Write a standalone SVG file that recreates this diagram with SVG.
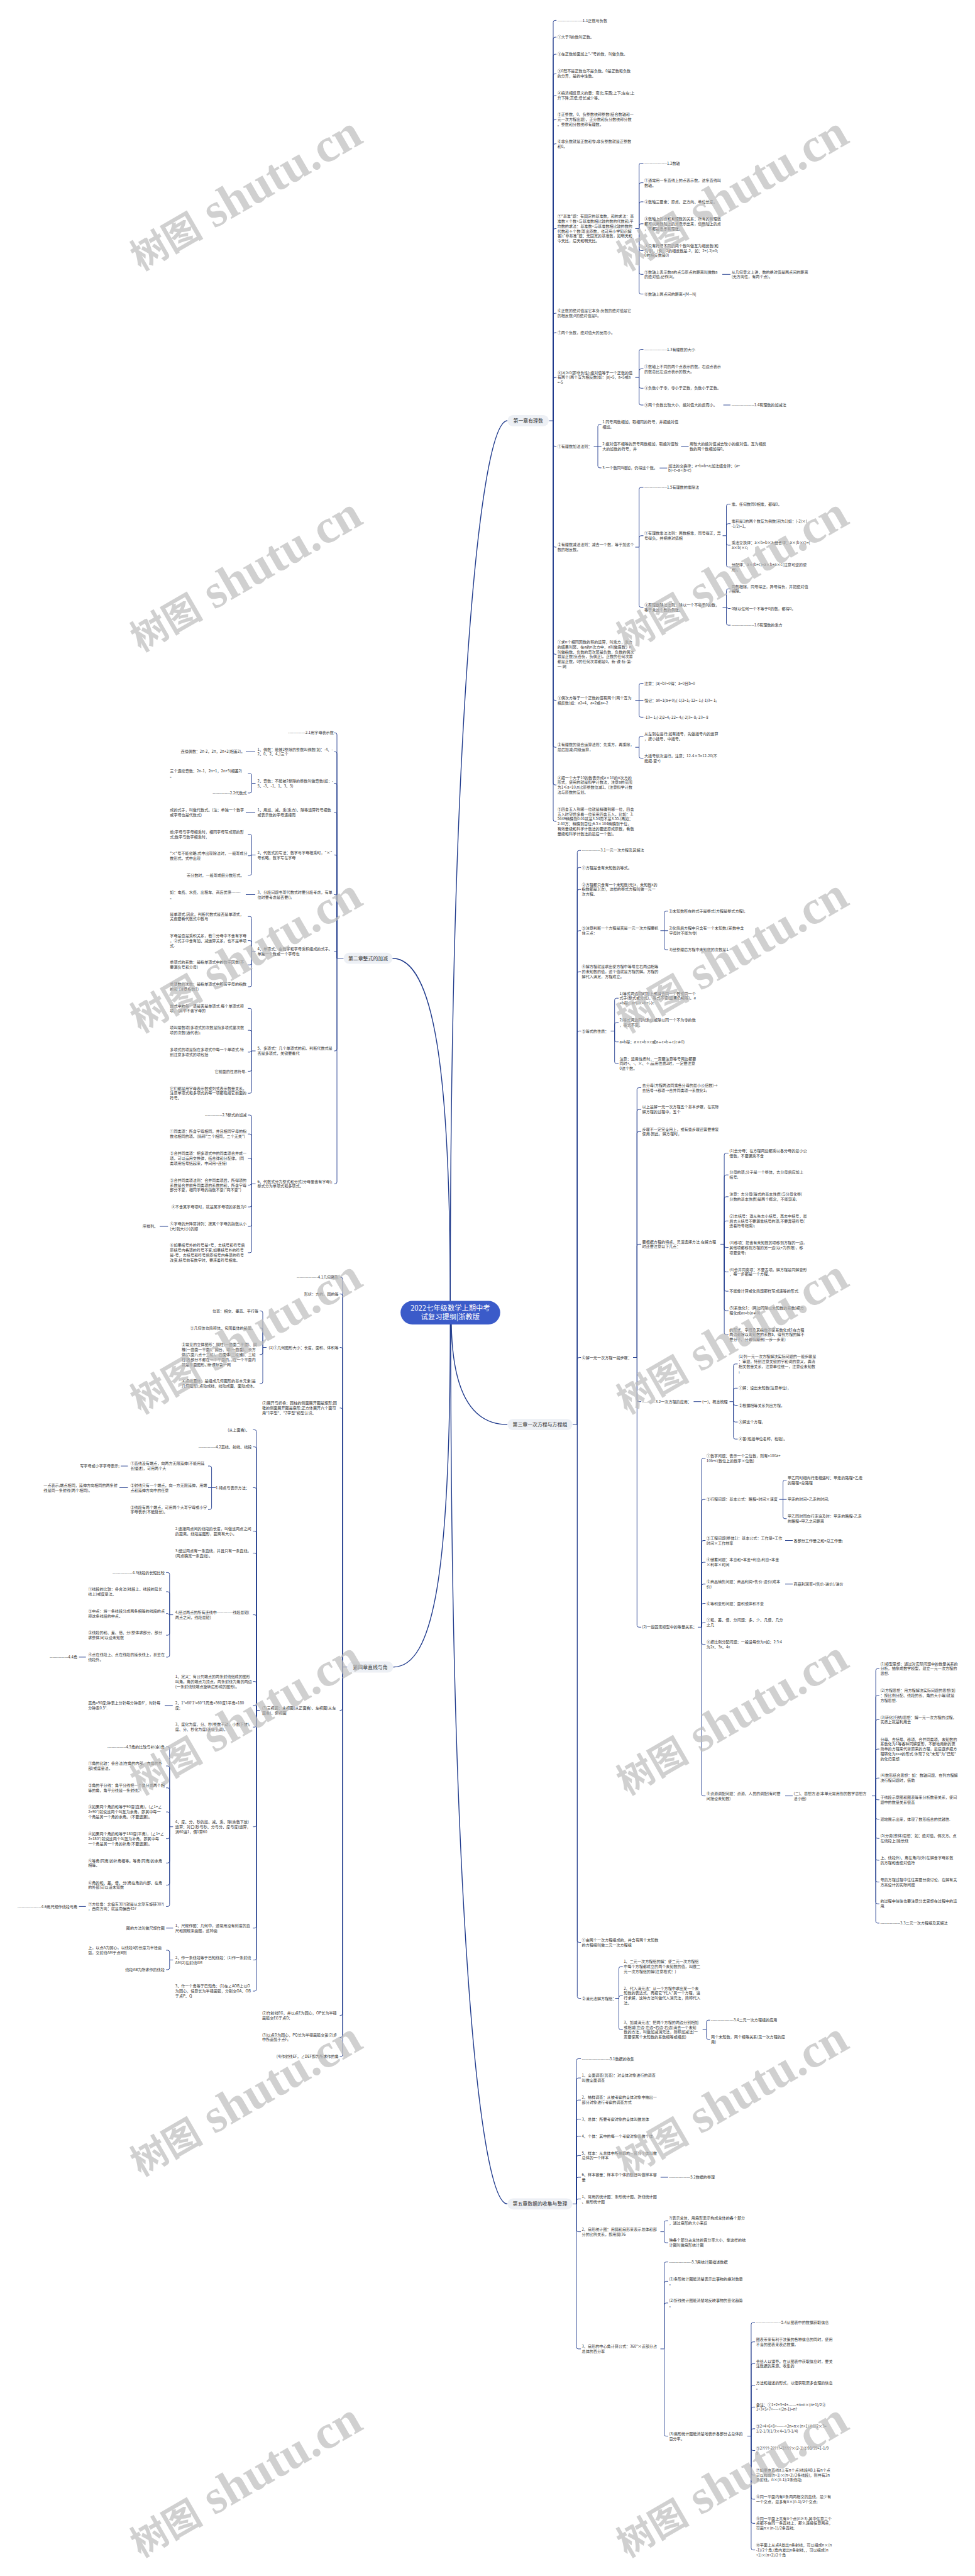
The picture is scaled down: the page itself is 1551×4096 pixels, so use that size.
<svg xmlns="http://www.w3.org/2000/svg" width="1551" height="4096" viewBox="0 0 1551 4096">
<style>
.t{font:6.1px "Noto Sans CJK SC","Noto Sans",sans-serif;fill:#333}
.e{text-anchor:end}
.k{fill:none;stroke:#1f3a8c;stroke-width:0.9}
.m{fill:none;stroke:#1f3a8c;stroke-width:1.4}
.n{fill:#edf0f5}
.nt{font:7.9px "Noto Sans CJK SC",sans-serif;fill:#333;text-anchor:middle}
.rt{font:11.3px "Noto Sans CJK SC",sans-serif;fill:#fff;text-anchor:middle}
.w{fill:#bdbdbd;opacity:.7;text-anchor:middle}
.w1{font:700 58px "Noto Sans CJK SC",sans-serif}
.w2{font:700 76px "Liberation Serif",serif}
</style>
<defs><g id="wm"><text class="w" y="20"><tspan class="w1">树图</tspan><tspan class="w2"> shutu.cn</tspan></text></g></defs>
<rect width="1551" height="4096" fill="#fff"/>
<g id="connectors">
<path class="m" d="M716.3 2068.5C716.3 1200 760 669 807.3 669"/>
<path class="m" d="M716.3 2068.5C716.3 1700 690 1523.7 624 1523.7"/>
<path class="m" d="M718 2106C720 2230 760 2265.1 807.3 2265.1"/>
<path class="m" d="M716.3 2106C716.3 2500 690 2650.7 625.5 2650.7"/>
<path class="m" d="M717 2106C717 3000 760 3504.3 807.3 3504.3"/>
<path class="k" d="M873.5 669H880M880 669V35.4Q880 32.4 883 32.4H885.2M880 669V62.1Q880 59.1 883 59.1H885.2M880 669V89.2Q880 86.2 883 86.2H885.2M880 669V120.3Q880 117.3 883 117.3H885.2M880 669V155Q880 152 883 152H885.2M880 669V193.2Q880 190.2 883 190.2H885.2M880 669V231.7Q880 228.7 883 228.7H885.2M880 669V366.5Q880 363.5 883 363.5H885.2M880 669V501.1Q880 498.1 883 498.1H885.2M880 669V531.9Q880 528.9 883 528.9H885.2M880 669V603.2Q880 600.2 883 600.2H885.2M880 669V706.7Q880 709.7 883 709.7H885.2M880 669V867Q880 870 883 870H885.2M880 669V1037.3Q880 1040.3 883 1040.3H885.2M880 669V1110.6Q880 1113.6 883 1113.6H885.2M880 669V1185.2Q880 1188.2 883 1188.2H885.2M880 669V1245.1Q880 1248.1 883 1248.1H885.2M880 669V1303.1Q880 1306.1 883 1306.1H885.2"/>
<path class="k" d="M1010.5 363.5H1016.7M1016.7 363.5V262.5Q1016.7 259.5 1019.7 259.5H1023.5M1016.7 363.5V293.6Q1016.7 290.6 1019.7 290.6H1023.5M1016.7 363.5V323.9Q1016.7 320.9 1019.7 320.9H1023.5M1016.7 363.5V358.8Q1016.7 355.8 1019.7 355.8H1023.5M1016.7 363.5V395.5Q1016.7 398.5 1019.7 398.5H1023.5M1016.7 363.5V433.3Q1016.7 436.3 1019.7 436.3H1023.5M1016.7 363.5V464.5Q1016.7 467.5 1019.7 467.5H1023.5"/>
<path class="k" d="M1149 436.3H1162M1150.6 644H1162M1083.4 709.6H1095.5M1049.3 744.2H1061.4"/>
<path class="k" d="M1010.5 600.2H1016.7M1016.7 600.2V558.5Q1016.7 555.5 1019.7 555.5H1023.5M1016.7 600.2V589.5Q1016.7 586.5 1019.7 586.5H1023.5M1016.7 600.2V614.3Q1016.7 617.3 1019.7 617.3H1023.5M1016.7 600.2V641Q1016.7 644 1019.7 644H1023.5"/>
<path class="k" d="M944.5 709.7H951M951 709.7V677.9Q951 674.9 954 674.9H956.7M951 709.7H956.7M951 709.7V740.9Q951 743.9 954 743.9H956.7"/>
<path class="k" d="M1010.5 870H1016.7M1016.7 870V778Q1016.7 775 1019.7 775H1023.5M1016.7 870V854.8Q1016.7 851.8 1019.7 851.8H1023.5M1016.7 870V962.6Q1016.7 965.6 1019.7 965.6H1023.5"/>
<path class="k" d="M1149.5 851.8H1155.5M1155.5 851.8V804.7Q1155.5 801.7 1158.5 801.7H1162.2M1155.5 851.8V835.7Q1155.5 832.7 1158.5 832.7H1162.2M1155.5 851.8V863.9Q1155.5 866.9 1158.5 866.9H1162.2M1155.5 851.8V898.6Q1155.5 901.6 1158.5 901.6H1162.2"/>
<path class="k" d="M1149.5 965.6H1155.5M1155.5 965.6V939.3Q1155.5 936.3 1158.5 936.3H1162.2M1155.5 965.6L1158.5 967.5H1162.2M1155.5 965.6V991.1Q1155.5 994.1 1158.5 994.1H1162.2"/>
<path class="k" d="M1010.5 1113.6H1016.7M1016.7 1113.6V1089.6Q1016.7 1086.6 1019.7 1086.6H1023.5M1016.7 1113.6H1023.5M1016.7 1113.6V1137.4Q1016.7 1140.4 1019.7 1140.4H1023.5"/>
<path class="k" d="M1010.5 1188.2H1016.7M1016.7 1188.2V1173.9Q1016.7 1170.9 1019.7 1170.9H1023.5M1016.7 1188.2V1202.6Q1016.7 1205.6 1019.7 1205.6H1023.5"/>
<path class="k" d="M911 2265.1H918.3M918.3 2265.1V1355.3Q918.3 1352.3 921.3 1352.3H924.1M918.3 2265.1V1382.4Q918.3 1379.4 921.3 1379.4H924.1M918.3 2265.1V1417.3Q918.3 1414.3 921.3 1414.3H924.1M918.3 2265.1V1482.8Q918.3 1479.8 921.3 1479.8H924.1M918.3 2265.1V1548Q918.3 1545 921.3 1545H924.1M918.3 2265.1V1642.4Q918.3 1639.4 921.3 1639.4H924.1M918.3 2265.1V2161.5Q918.3 2158.5 921.3 2158.5H924.1M918.3 2265.1V3085.5Q918.3 3088.5 921.3 3088.5H924.1M918.3 2265.1V3174.5Q918.3 3177.5 921.3 3177.5H924.1"/>
<path class="k" d="M1050.5 1479.8H1056.6M1056.6 1479.8V1451.8Q1056.6 1448.8 1059.6 1448.8H1062.9M1056.6 1479.8H1062.9M1056.6 1479.8V1507.1Q1056.6 1510.1 1059.6 1510.1H1062.9"/>
<path class="k" d="M971.5 1639.4H977.7M977.7 1639.4V1590.2Q977.7 1587.2 980.7 1587.2H984M977.7 1639.4V1628.9Q977.7 1625.9 980.7 1625.9H984M977.7 1639.4V1653.7Q977.7 1656.7 980.7 1656.7H984M977.7 1639.4V1688.2Q977.7 1691.2 980.7 1691.2H984"/>
<path class="k" d="M1007 2158.5H1013.3M1013.3 2158.5V1732.5Q1013.3 1729.5 1016.3 1729.5H1020.1M1013.3 2158.5V1767.2Q1013.3 1764.2 1016.3 1764.2H1020.1M1013.3 2158.5V1802.3Q1013.3 1799.3 1016.3 1799.3H1020.1M1013.3 2158.5V1981.4Q1013.3 1978.4 1016.3 1978.4H1020.1M1013.3 2158.5V2225.7Q1013.3 2228.7 1016.3 2228.7H1020.1M1013.3 2158.5V2584.3Q1013.3 2587.3 1016.3 2587.3H1020.1"/>
<path class="k" d="M1146 1978.4H1152.1M1152.1 1978.4V1836.5Q1152.1 1833.5 1155.1 1833.5H1158.8M1152.1 1978.4V1871.2Q1152.1 1868.2 1155.1 1868.2H1158.8M1152.1 1978.4V1905.9Q1152.1 1902.9 1155.1 1902.9H1158.8M1152.1 1978.4V1944.4Q1152.1 1941.4 1155.1 1941.4H1158.8M1152.1 1978.4V1980.6Q1152.1 1983.6 1155.1 1983.6H1158.8M1152.1 1978.4V2019.4Q1152.1 2022.4 1155.1 2022.4H1158.8M1152.1 1978.4V2050.1Q1152.1 2053.1 1155.1 2053.1H1158.8M1152.1 1978.4V2081.1Q1152.1 2084.1 1155.1 2084.1H1158.8M1152.1 1978.4V2119.3Q1152.1 2122.3 1155.1 2122.3H1158.8"/>
<path class="k" d="M1103.4 2228.7H1115.5M1249 2449.5H1261M1249 2518.8H1261M1249 2855.6H1261"/>
<path class="k" d="M1160.5 2228.7H1166.7M1166.7 2228.7V2171.8Q1166.7 2168.8 1169.7 2168.8H1173.5M1166.7 2228.7V2210.3Q1166.7 2207.3 1169.7 2207.3H1173.5M1166.7 2228.7V2231.5Q1166.7 2234.5 1169.7 2234.5H1173.5M1166.7 2228.7V2258.1Q1166.7 2261.1 1169.7 2261.1H1173.5M1166.7 2228.7V2285.2Q1166.7 2288.2 1169.7 2288.2H1173.5"/>
<path class="k" d="M1110 2587.3H1116M1116 2587.3V2321.8Q1116 2318.8 1119 2318.8H1122.3M1116 2587.3V2387.2Q1116 2384.2 1119 2384.2H1122.3M1116 2587.3V2452.5Q1116 2449.5 1119 2449.5H1122.3M1116 2587.3V2487.1Q1116 2484.1 1119 2484.1H1122.3M1116 2587.3V2521.8Q1116 2518.8 1119 2518.8H1122.3M1116 2587.3V2552.5Q1116 2549.5 1119 2549.5H1122.3M1116 2587.3V2583.1Q1116 2580.1 1119 2580.1H1122.3M1116 2587.3V2611.8Q1116 2614.8 1119 2614.8H1122.3M1116 2587.3V2852.6Q1116 2855.6 1119 2855.6H1122.3"/>
<path class="k" d="M1239.5 2384.2H1245.6M1245.6 2384.2V2356.5Q1245.6 2353.5 1248.6 2353.5H1251.4M1245.6 2384.2H1251.4M1245.6 2384.2V2411.8Q1245.6 2414.8 1248.6 2414.8H1251.4"/>
<path class="k" d="M1387 2855.6H1393.1M1393.1 2855.6V2656.3Q1393.1 2653.3 1396.1 2653.3H1398.9M1393.1 2855.6V2699Q1393.1 2696 1396.1 2696H1398.9M1393.1 2855.6V2737.3Q1393.1 2734.3 1396.1 2734.3H1398.9M1393.1 2855.6V2784.1Q1393.1 2781.1 1396.1 2781.1H1398.9M1393.1 2855.6V2830.2Q1393.1 2827.2 1396.1 2827.2H1398.9M1393.1 2855.6V2858.8Q1393.1 2861.8 1396.1 2861.8H1398.9M1393.1 2855.6V2889.6Q1393.1 2892.6 1396.1 2892.6H1398.9M1393.1 2855.6V2920.2Q1393.1 2923.2 1396.1 2923.2H1398.9M1393.1 2855.6V2954.9Q1393.1 2957.9 1396.1 2957.9H1398.9M1393.1 2855.6V2989.5Q1393.1 2992.5 1396.1 2992.5H1398.9M1393.1 2855.6V3024.2Q1393.1 3027.2 1396.1 3027.2H1398.9M1393.1 2855.6V3054.9Q1393.1 3057.9 1396.1 3057.9H1398.9"/>
<path class="k" d="M978.5 3177.5H984.5M984.5 3177.5V3130.1Q984.5 3127.1 987.5 3127.1H990.8M984.5 3177.5V3176.2Q984.5 3173.2 987.5 3173.2H990.8M984.5 3177.5V3224.4Q984.5 3227.4 987.5 3227.4H990.8"/>
<path class="k" d="M1117.7 3227.4H1123.8M1123.8 3227.4V3215.2Q1123.8 3212.2 1126.8 3212.2H1129.6M1123.8 3227.4V3239.7Q1123.8 3242.7 1126.8 3242.7H1129.6"/>
<path class="k" d="M911 3504.3H917M917 3504.3V3276.5Q917 3273.5 920 3273.5H924.1M917 3504.3V3307.1Q917 3304.1 920 3304.1H924.1M917 3504.3V3342.2Q917 3339.2 920 3339.2H924.1M917 3504.3V3372.5Q917 3369.5 920 3369.5H924.1M917 3504.3V3399.7Q917 3396.7 920 3396.7H924.1M917 3504.3V3430.4Q917 3427.4 920 3427.4H924.1M917 3504.3V3465Q917 3462 920 3462H924.1M917 3504.3V3499.5Q917 3496.5 920 3496.5H924.1M917 3504.3V3545.6Q917 3548.6 920 3548.6H924.1M917 3504.3V3731.9Q917 3734.9 920 3734.9H924.1"/>
<path class="k" d="M1050.8 3462H1062.9"/>
<path class="k" d="M1050.5 3548.6H1056.6M1056.6 3548.6V3534.1Q1056.6 3531.1 1059.6 3531.1H1062.9M1056.6 3548.6V3563.1Q1056.6 3566.1 1059.6 3566.1H1062.9"/>
<path class="k" d="M1050.5 3734.9H1056.6M1056.6 3734.9V3599.7Q1056.6 3596.7 1059.6 3596.7H1062.9M1056.6 3734.9V3630.4Q1056.6 3627.4 1059.6 3627.4H1062.9M1056.6 3734.9V3664.9Q1056.6 3661.9 1059.6 3661.9H1062.9M1056.6 3734.9V3870.6Q1056.6 3873.6 1059.6 3873.6H1062.9"/>
<path class="k" d="M1188.8 3873.6H1194.9M1194.9 3873.6V3696.1Q1194.9 3693.1 1197.9 3693.1H1201.2M1194.9 3873.6V3726.7Q1194.9 3723.7 1197.9 3723.7H1201.2M1194.9 3873.6V3761.3Q1194.9 3758.3 1197.9 3758.3H1201.2M1194.9 3873.6V3795.9Q1194.9 3792.9 1197.9 3792.9H1201.2M1194.9 3873.6V3830.4Q1194.9 3827.4 1197.9 3827.4H1201.2M1194.9 3873.6V3864.9Q1194.9 3861.9 1197.9 3861.9H1201.2M1194.9 3873.6V3893.5Q1194.9 3896.5 1197.9 3896.5H1201.2M1194.9 3873.6V3932.4Q1194.9 3935.4 1197.9 3935.4H1201.2M1194.9 3873.6V3970.9Q1194.9 3973.9 1197.9 3973.9H1201.2M1194.9 3873.6V4009.3Q1194.9 4012.3 1197.9 4012.3H1201.2M1194.9 3873.6V4051.6Q1194.9 4054.6 1197.9 4054.6H1201.2"/>
<path class="k" d="M546.6 1523.7H536M536 1523.7V1168.2Q536 1165.2 533 1165.2H531.5M536 1523.7V1198.3Q536 1195.3 533 1195.3H531.5M536 1523.7V1248.5Q536 1245.5 533 1245.5H531.5M536 1523.7V1294.9Q536 1291.9 533 1291.9H531.5M536 1523.7V1362.5Q536 1359.5 533 1359.5H531.5M536 1523.7V1425.5Q536 1422.5 533 1422.5H531.5M536 1523.7V1515.9Q536 1512.9 533 1512.9H531.5M536 1523.7V1668Q536 1671 533 1671H531.5M536 1523.7V1879.4Q536 1882.4 533 1882.4H531.5"/>
<path class="k" d="M406 1195.3H391M406 1291.9H391M406 1422.5H391M267.3 1950.1H254"/>
<path class="k" d="M406.5 1245.5H400.4M400.4 1245.5V1233Q400.4 1230 397.4 1230H394.5M400.4 1245.5V1257.9Q400.4 1260.9 397.4 1260.9H394.5"/>
<path class="k" d="M406.5 1359.5H400.4M400.4 1359.5V1329.7Q400.4 1326.7 397.4 1326.7H394.5M400.4 1359.5L397.4 1360.7H394.5M400.4 1359.5V1388.6Q400.4 1391.6 397.4 1391.6H394.5"/>
<path class="k" d="M406.5 1512.9H400.4M400.4 1512.9V1460.3Q400.4 1457.3 397.4 1457.3H394.5M400.4 1512.9V1498.6Q400.4 1495.6 397.4 1495.6H394.5M400.4 1512.9V1531.2Q400.4 1534.2 397.4 1534.2H394.5M400.4 1512.9V1566Q400.4 1569 397.4 1569H394.5"/>
<path class="k" d="M406.5 1671H400.4M400.4 1671V1606.4Q400.4 1603.4 397.4 1603.4H394.5M400.4 1671V1641.2Q400.4 1638.2 397.4 1638.2H394.5M400.4 1671L397.4 1672.9H394.5M400.4 1671V1700.4Q400.4 1703.4 397.4 1703.4H394.5M400.4 1671V1735.3Q400.4 1738.3 397.4 1738.3H394.5"/>
<path class="k" d="M406.5 1882.4H400.4M400.4 1882.4V1776Q400.4 1773 397.4 1773H394.5M400.4 1882.4V1806.2Q400.4 1803.2 397.4 1803.2H394.5M400.4 1882.4V1844.9Q400.4 1841.9 397.4 1841.9H394.5M400.4 1882.4L397.4 1884.4H394.5M400.4 1882.4V1916.1Q400.4 1919.1 397.4 1919.1H394.5M400.4 1882.4V1947.1Q400.4 1950.1 397.4 1950.1H394.5M400.4 1882.4V1988.9Q400.4 1991.9 397.4 1991.9H394.5"/>
<path class="k" d="M552.6 2650.7H545M545 2650.7V2033.8Q545 2030.8 542 2030.8H540.5M545 2650.7V2060.5Q545 2057.5 542 2057.5H540.5M545 2650.7V2145.5Q545 2142.5 542 2142.5H540.5M545 2650.7V2241.8Q545 2238.8 542 2238.8H540.5M545 2650.7V2716.5Q545 2719.5 542 2719.5H540.5M545 2650.7V3201.6Q545 3204.6 542 3204.6H540.5M545 2650.7V3236.4Q545 3239.4 542 3239.4H540.5M545 2650.7V3267.2Q545 3270.2 542 3270.2H540.5"/>
<path class="k" d="M424 2142.5H418M418 2142.5V2087.5Q418 2084.5 415 2084.5H413M418 2142.5V2114.6Q418 2111.6 415 2111.6H413M418 2142.5V2150.8Q418 2153.8 415 2153.8H413M418 2142.5V2197.1Q418 2200.1 415 2200.1H413"/>
<path class="k" d="M413.5 2719.5H408M408 2719.5V2276.5Q408 2273.5 405 2273.5H402.5M408 2719.5V2303.6Q408 2300.6 405 2300.6H402.5M408 2719.5V2368.5Q408 2365.5 405 2365.5H402.5M408 2719.5V2437.7Q408 2434.7 405 2434.7H402.5M408 2719.5V2472.5Q408 2469.5 405 2469.5H402.5M408 2719.5V2570.6Q408 2567.6 405 2567.6H402.5M408 2719.5V2676.6Q408 2673.6 405 2673.6H402.5M408 2719.5V2714.8Q408 2711.8 405 2711.8H402.5M408 2719.5V2743.2Q408 2746.2 405 2746.2H402.5M408 2719.5V2901.7Q408 2904.7 405 2904.7H402.5M408 2719.5V3062.8Q408 3065.8 405 3065.8H402.5M408 2719.5V3113.5Q408 3116.5 405 3116.5H402.5M408 2719.5V3163Q408 3166 405 3166H402.5"/>
<path class="k" d="M343.5 2365.5H336.6M336.6 2365.5V2334.1Q336.6 2331.1 333.6 2331.1H331M336.6 2365.5H331M336.6 2365.5V2397.3Q336.6 2400.3 333.6 2400.3H331"/>
<path class="k" d="M203.5 2331.1H192M203.5 2365.5H190M136.7 2634.9H125.6M274.8 2711.8H262M136.7 3031.4H125.6M275.3 3065.8H264.3"/>
<path class="k" d="M275.3 2567.6H269.8M269.8 2567.6V2503.4Q269.8 2500.4 266.8 2500.4H264.3M269.8 2567.6V2533.9Q269.8 2530.9 266.8 2530.9H264.3M269.8 2567.6L266.8 2565.7H264.3M269.8 2567.6V2597.1Q269.8 2600.1 266.8 2600.1H264.3M269.8 2567.6V2631.9Q269.8 2634.9 266.8 2634.9H264.3"/>
<path class="k" d="M275.3 2904.7H269.8M269.8 2904.7V2780.5Q269.8 2777.5 266.8 2777.5H264.3M269.8 2904.7V2811Q269.8 2808 266.8 2808H264.3M269.8 2904.7V2845.8Q269.8 2842.8 266.8 2842.8H264.3M269.8 2904.7V2884.1Q269.8 2881.1 266.8 2881.1H264.3M269.8 2904.7V2920.6Q269.8 2923.6 266.8 2923.6H264.3M269.8 2904.7V2959.3Q269.8 2962.3 266.8 2962.3H264.3M269.8 2904.7V2994.4Q269.8 2997.4 266.8 2997.4H264.3M269.8 2904.7V3028.4Q269.8 3031.4 266.8 3031.4H264.3"/>
<path class="k" d="M275.3 3116.5H269.8M269.8 3116.5V3104Q269.8 3101 266.8 3101H264.3M269.8 3116.5V3128.9Q269.8 3131.9 266.8 3131.9H264.3"/>
</g>
<g id="root"><rect x="637.2" y="2068.5" width="158.5" height="37.4" rx="18.7" fill="#3b5bc9"/><text class="rt" x="716.3" y="2084.2">2022七年级数学上期中考<tspan x="716.3" dy="13.5">试复习提纲|浙教版</tspan></text></g>
<g id="ch1"><rect class="n" x="807.3" y="660" width="65.7" height="17.8" rx="8.9"/><text class="nt" x="840.2" y="671.7">第一章有理数</text></g>
<g id="ch2"><rect class="n" x="546.6" y="1514.8" width="77.9" height="17.8" rx="8.9"/><text class="nt" x="585.5" y="1526.5">第二章整式的加减</text></g>
<g id="ch3"><rect class="n" x="807.3" y="2256.2" width="103.2" height="17.8" rx="8.9"/><text class="nt" x="858.9" y="2267.9">第三章一次方程与方程组</text></g>
<g id="ch4"><rect class="n" x="552.6" y="2641.8" width="72.9" height="17.8" rx="8.9"/><text class="nt" x="589" y="2653.5">第四章直线与角</text></g>
<g id="ch5"><rect class="n" x="807.3" y="3495.4" width="103.2" height="17.8" rx="8.9"/><text class="nt" x="858.9" y="3507.1">第五章数据的收集与整理</text></g>
<g id="a1"><text class="t" x="886.7" y="34.5">-------------------1.1正数与负数</text></g>
<g id="a2"><text class="t" x="886.7" y="61.2">①大于0的数叫正数。</text></g>
<g id="a3"><text class="t" x="886.7" y="88.3">②在正数前面加上"-"号的数，叫做负数。</text></g>
<g id="a4"><text class="t" x="886.7" y="115.4">③0既不是正数也不是负数。0是正数和负数<tspan x="886.7" dy="7.8">的分界，是的中性数。</tspan></text></g>
<g id="a5"><text class="t" x="886.7" y="150.1">④搞清相反意义的量：南北;东西;上下;左右;上<tspan x="886.7" dy="7.8">升下降;高低;增长减少等。</tspan></text></g>
<g id="a6"><text class="t" x="886.7" y="184.3">⑤正整数、0、负整数统称整数(结合数轴和一<tspan x="886.7" dy="7.8">元一次方程出题)，正分数和负分数统称分数</tspan><tspan x="886.7" dy="7.8">。整数和分数统称有理数。</tspan></text></g>
<g id="a7"><text class="t" x="886.7" y="227">⑥非负数就是正数和零;非负整数就是正整数<tspan x="886.7" dy="7.8">和0。</tspan></text></g>
<g id="a8"><text class="t" x="886.7" y="346.1">⑦"基准"题：有固定的基准数，和的求法：基<tspan x="886.7" dy="7.8">准数×个数+与基准数相比较的数的代数和;平</tspan><tspan x="886.7" dy="7.8">均数的求法：基准数+与基准数相比较的数的</tspan><tspan x="886.7" dy="7.8">代数和÷个数(写出原数，也可用小学知识解</tspan><tspan x="886.7" dy="7.8">答);"非基准"题：无固定的基准数，如明天和</tspan><tspan x="886.7" dy="7.8">今天比，后天和明天比。</tspan></text></g>
<g id="a8a"><text class="t" x="1025" y="261.6">-----------------1.2数轴</text></g>
<g id="a8b"><text class="t" x="1025" y="288.8">①通常用一条直线上的点表示数，这条直线叫<tspan x="1025" dy="7.8">数轴。</tspan></text></g>
<g id="a8c"><text class="t" x="1025" y="323">②数轴三要素：原点、正方向、单位长度。</text></g>
<g id="a8d"><text class="t" x="1025" y="350.1">③数轴上的点和有理数的关系：所有的有理数<tspan x="1025" dy="7.8">都可以用数轴上的点表示出来，但数轴上的点</tspan><tspan x="1025" dy="7.8">，不都是表示有理数。</tspan></text></g>
<g id="a8e"><text class="t" x="1025" y="392.8">④只有符号不同的两个数叫做互为相反数(和<tspan x="1025" dy="7.8">为零)。(例：2的相反数是-2，如：2+(-2)=0;</tspan><tspan x="1025" dy="7.8">0的相反数是0)</tspan></text></g>
<g id="a8f"><text class="t" x="1025" y="434.5">⑤数轴上表示数a的点与原点的距离叫做数a<tspan x="1025" dy="7.8">的绝对值,记作|a|。</tspan></text></g>
<g id="a8f1"><text class="t" x="1163.7" y="434.5">从几何意义上讲，数的绝对值是两点间的距离<tspan x="1163.7" dy="7.8">(无方向性，有两个点)。</tspan></text></g>
<g id="a8g"><text class="t" x="1025" y="469.6">⑥数轴上两点间的距离=|M—N|</text></g>
<g id="a9"><text class="t" x="886.7" y="496.3">⑥正数的绝对值是它本身;负数的绝对值是它<tspan x="886.7" dy="7.8">的相反数;0的绝对值是0。</tspan></text></g>
<g id="a10"><text class="t" x="886.7" y="531">⑦两个负数，绝对值大的反而小。</text></g>
<g id="a11"><text class="t" x="886.7" y="594.5">⑧|a|≥0(即非负性);绝对值等于一个正数的值<tspan x="886.7" dy="7.8">有两个(两个互为相反数)如：|a|=5，a=5或a</tspan><tspan x="886.7" dy="7.8">=-5</tspan></text></g>
<g id="a11a"><text class="t" x="1025" y="557.6">-----------------1.3有理数的大小</text></g>
<g id="a11b"><text class="t" x="1025" y="584.7">①数轴上不同的两个点表示的数，右边点表示<tspan x="1025" dy="7.8">的数总比左边点表示的数大。</tspan></text></g>
<g id="a11c"><text class="t" x="1025" y="619.4">②负数小于零，零小于正数，负数小于正数。</text></g>
<g id="a11d"><text class="t" x="1025" y="646.1">③两个负数比较大小，绝对值大的反而小。</text></g>
<g id="a11d1"><text class="t" x="1163.7" y="646.1">-----------------1.4有理数的加减法</text></g>
<g id="a12"><text class="t" x="886.7" y="711.8">①有理数加法法则：</text></g>
<g id="a12a"><text class="t" x="958.2" y="673.1">1.同号两数相加，取相同的符号，并把绝对值<tspan x="958.2" dy="7.8">相加。</tspan></text></g>
<g id="a12b"><text class="t" x="958.2" y="707.8">2.绝对值不相等的异号两数相加，取绝对值较<tspan x="958.2" dy="7.8">大的加数的符号，并</tspan></text></g>
<g id="a12b1"><text class="t" x="1097" y="707.8">用较大的绝对值减去较小的绝对值。互为相反<tspan x="1097" dy="7.8">数的两个数相加得0。</tspan></text></g>
<g id="a12c"><text class="t" x="958.2" y="746">3.一个数同0相加，仍得这个数。</text></g>
<g id="a12c1"><text class="t" x="1062.9" y="742.5">加法的交换律：a+b=b+a;加法结合律：(a+<tspan x="1062.9" dy="7.8">b)+c=a+(b+c)</tspan></text></g>
<g id="a13"><text class="t" x="886.7" y="868.2">②有理数减法法则：减去一个数，等于加这个<tspan x="886.7" dy="7.8">数的相反数。</tspan></text></g>
<g id="a13a"><text class="t" x="1025" y="777.1">-----------------1.5有理数的乘除法</text></g>
<g id="a13b"><text class="t" x="1025" y="850">①有理数乘法法则：两数相乘，同号得正，异<tspan x="1025" dy="7.8">号得负，并把绝对值相</tspan></text></g>
<g id="a13b1"><text class="t" x="1163.7" y="803.8">乘。任何数同0相乘，都得0。</text></g>
<g id="a13b2"><text class="t" x="1163.7" y="830.9">乘积是1的两个数互为倒数(积为1)如：(-2)×(<tspan x="1163.7" dy="7.8">-1/2)=1。</tspan></text></g>
<g id="a13b3"><text class="t" x="1163.7" y="865.1">乘法交换律：a×b=b×a;结合律：a×(b×c)=(<tspan x="1163.7" dy="7.8">a×b)×c;</tspan></text></g>
<g id="a13b4"><text class="t" x="1163.7" y="899.8">分配律：a×(b+c)=a×b+a×c(注意可逆的使<tspan x="1163.7" dy="7.8">用)。</tspan></text></g>
<g id="a13c"><text class="t" x="1025" y="963.8">②有理数除法法则：除以一个不等于0的数，<tspan x="1025" dy="7.8">等于乘这个数的倒数。</tspan></text></g>
<g id="a13c1"><text class="t" x="1163.7" y="934.5">两数相除，同号得正，异号得负，并把绝对值<tspan x="1163.7" dy="7.8">相除。</tspan></text></g>
<g id="a13c2"><text class="t" x="1163.7" y="969.6">0除以任何一个不等于0的数，都得0。</text></g>
<g id="a13c3"><text class="t" x="1163.7" y="996.2">-----------------1.6有理数的乘方</text></g>
<g id="a14"><text class="t" x="886.7" y="1022.9">①求n个相同因数的积的运算，叫乘方，乘方<tspan x="886.7" dy="7.8">的结果叫幂。在a的n次方中，a叫做底数，n</tspan><tspan x="886.7" dy="7.8">叫做指数。负数的奇次幂是负数，负数的偶次</tspan><tspan x="886.7" dy="7.8">幂是正数(负奇负，负偶正)。正数的任何次幂</tspan><tspan x="886.7" dy="7.8">都是正数，0的任何次幂都是0。新-课-标-第-</tspan><tspan x="886.7" dy="7.8">一-网</tspan></text></g>
<g id="a15"><text class="t" x="886.7" y="1111.8">②偶次方等于一个正数的值有两个(两个互为<tspan x="886.7" dy="7.8">相反数)如：a2=4，a=2或a=-2</tspan></text></g>
<g id="a15a"><text class="t" x="1025" y="1088.7">注意：|a|+b?=0得：a=0且b=0</text></g>
<g id="a15b"><text class="t" x="1025" y="1115.8">强记：a0=1(a≠0);(-1)2=1;-12=-1;(-1)3=-1;</text></g>
<g id="a15c"><text class="t" x="1025" y="1142.5">-13=-1;(-2)2=4;-22=-4;(-2)3=-8;-23=-8</text></g>
<g id="a16"><text class="t" x="886.7" y="1186.4">③有理数的混合运算法则：先乘方，再乘除，<tspan x="886.7" dy="7.8">最后加减;同级运算，</tspan></text></g>
<g id="a16a"><text class="t" x="1025" y="1169.1">从左到右进行;如有括号，先做括号内的运算<tspan x="1025" dy="7.8">，按小括号、中括号、</tspan></text></g>
<g id="a16b"><text class="t" x="1025" y="1203.8">大括号依次进行。注意：12-4×5=12-20(不<tspan x="1025" dy="7.8">能把-变+)</tspan></text></g>
<g id="a17"><text class="t" x="886.7" y="1238.5">④把一个大于10的数表示成a×10的n次方的<tspan x="886.7" dy="7.8">形式，使用的就是科学计数法，注意a的范围</tspan><tspan x="886.7" dy="7.8">为1≤a&lt;10;n比原整数位减1。(注意科学计数</tspan><tspan x="886.7" dy="7.8">法与原数的互划。</tspan></text></g>
<g id="a18"><text class="t" x="886.7" y="1288.7">⑤四舍五入到哪一位就是精确到哪一位，四舍<tspan x="886.7" dy="7.8">五入时望后多看一位采用四舍五入。比如：3.</tspan><tspan x="886.7" dy="7.8">5449精确到0.01就是3.54而不是3.55.(再如：</tspan><tspan x="886.7" dy="7.8">2.40万：精确到百位;6.5×104精确到千位，</tspan><tspan x="886.7" dy="7.8">有效量级和科学计数法的要还原成原数，看数</tspan><tspan x="886.7" dy="7.8">量级和科学计数法的最后一个数)。</tspan></text></g>
<g id="b1"><text class="t" x="925.6" y="1354.4">--------------3.1一元一次方程及其解法</text></g>
<g id="b2"><text class="t" x="925.6" y="1381.5">①方程是含有未知数的等式。</text></g>
<g id="b3"><text class="t" x="925.6" y="1408.6">②方程都只含有一个未知数(元)x，未知数x的<tspan x="925.6" dy="7.8">指数都是1(次)，这样的整式方程叫做一元一</tspan><tspan x="925.6" dy="7.8">次方程。</tspan></text></g>
<g id="b4"><text class="t" x="925.6" y="1478">③注意判断一个方程是否是一元一次方程要抓<tspan x="925.6" dy="7.8">住三点：</tspan></text></g>
<g id="b4a"><text class="t" x="1064.4" y="1450.9">1)未知数所在的式子是整式(方程是整式方程);</text></g>
<g id="b4b"><text class="t" x="1064.4" y="1478">2)化简后方程中只含有一个未知数;(系数中含<tspan x="1064.4" dy="7.8">字母时不能为零)</tspan></text></g>
<g id="b4c"><text class="t" x="1064.4" y="1512.2">3)经整理后方程中未知数的次数是1.</text></g>
<g id="b5"><text class="t" x="925.6" y="1539.3">④解方程就是求出使方程中等号左右两边相等<tspan x="925.6" dy="7.8">的未知数的值，这个值就是方程的解。方程的</tspan><tspan x="925.6" dy="7.8">解代入满足，方程成立。</tspan></text></g>
<g id="b6"><text class="t" x="925.6" y="1641.5">⑤等式的性质：</text></g>
<g id="b6a"><text class="t" x="985.5" y="1581.5">1)等式两边同时加上或减去同一个数或同一个<tspan x="985.5" dy="7.8">式子(整式或分式)，等式不变(结果仍相等)。a</tspan><tspan x="985.5" dy="7.8">=b得：a+(-)c=b+(-)c</tspan></text></g>
<g id="b6b"><text class="t" x="985.5" y="1624.1">2)等式两边同时乘以或除以同一个不为零的数<tspan x="985.5" dy="7.8">，等式不变。</tspan></text></g>
<g id="b6c"><text class="t" x="985.5" y="1658.8">a=b得：a×c=b×c或a÷c=b÷c(c≠0)</text></g>
<g id="b6d"><text class="t" x="985.5" y="1685.5">注意：运用性质时，一定要注意等号两边都要<tspan x="985.5" dy="7.8">同时+、-、×、÷;运用性质2时，一定要注意</tspan><tspan x="985.5" dy="7.8">0这个数。</tspan></text></g>
<g id="b7"><text class="t" x="925.6" y="2160.6">⑥解一元一次方程一般步骤：</text></g>
<g id="b7a"><text class="t" x="1021.6" y="1727.7">去分母(方程两边同乘各分母的最小公倍数)→<tspan x="1021.6" dy="7.8">去括号→移项→合并同类项→系数化1;</tspan></text></g>
<g id="b7b"><text class="t" x="1021.6" y="1762.4">以上是解一元一次方程五个基本步骤，在实际<tspan x="1021.6" dy="7.8">解方程的过程中，五个</tspan></text></g>
<g id="b7c"><text class="t" x="1021.6" y="1797.5">步骤不一定完全用上，或有些步骤还需要重复<tspan x="1021.6" dy="7.8">使用.因此，解方程时，</tspan></text></g>
<g id="b7d"><text class="t" x="1021.6" y="1976.6">要根据方程的特点，灵活选择方法.在解方程<tspan x="1021.6" dy="7.8">时还要注意以下几点：</tspan></text></g>
<g id="b7d1"><text class="t" x="1160.3" y="1831.7">(1)去分母：在方程两边都乘以各分母的最小公<tspan x="1160.3" dy="7.8">倍数，不要漏乘不含</tspan></text></g>
<g id="b7d2"><text class="t" x="1160.3" y="1866.4">分母的项;分子是一个整体，去分母后应加上<tspan x="1160.3" dy="7.8">括号;</tspan></text></g>
<g id="b7d3"><text class="t" x="1160.3" y="1901.1">注意：去分母(等式的基本性质)与分母化整(<tspan x="1160.3" dy="7.8">分数的基本性质)是两个概念，不能混淆;</tspan></text></g>
<g id="b7d4"><text class="t" x="1160.3" y="1935.7">(2)去括号：遵从先去小括号，再去中括号，最<tspan x="1160.3" dy="7.8">后去大括号不要漏乘括号的项;不要弄错符号(</tspan><tspan x="1160.3" dy="7.8">连着符号相乘);</tspan></text></g>
<g id="b7d5"><text class="t" x="1160.3" y="1977.9">(3)移项：把含有未知数的项移到方程的一边，<tspan x="1160.3" dy="7.8">其他项都移到方程的另一边(以=为界限)，移</tspan><tspan x="1160.3" dy="7.8">项要变号;</tspan></text></g>
<g id="b7d6"><text class="t" x="1160.3" y="2020.6">(4)合并同类项：不要丢项。解方程是同解变形<tspan x="1160.3" dy="7.8">，每一步都是一个方程。</tspan></text></g>
<g id="b7d7"><text class="t" x="1160.3" y="2055.2">不能像计算或化简题那样写成连等的形式.</text></g>
<g id="b7d8"><text class="t" x="1160.3" y="2082.3">(5)系数化1：(两边同除以未知数的系数)把方<tspan x="1160.3" dy="7.8">程化成ax=b(a≠0)</tspan></text></g>
<g id="b7d9"><text class="t" x="1160.3" y="2116.6">的形式，字母及其指数不变系数化成1在方程<tspan x="1160.3" dy="7.8">两边都除以未知数的系数a，得到方程的解不</tspan><tspan x="1160.3" dy="7.8">要分子、分母搞颠倒(一步一步来)</tspan></text></g>
<g id="b7e"><text class="t" x="1021.6" y="2230.8">----------3.2一次方程的应用：</text></g>
<g id="b7e1"><text class="t" x="1117" y="2230.8">(一)、概念梳理</text></g>
<g id="b7e1a"><text class="t" x="1175" y="2159.2">(1)列一元一次方程解决实际问题的一般步骤是<tspan x="1175" dy="7.8">：审题，特别注意关键的字和词的意义，弄清</tspan><tspan x="1175" dy="7.8">相关数量关系，注意单位统一，注意设未知数</tspan><tspan x="1175" dy="7.8">;</tspan></text></g>
<g id="b7e1b"><text class="t" x="1175" y="2209.4">①解：设出未知数(注意单位)，</text></g>
<g id="b7e1c"><text class="t" x="1175" y="2236.6">②根据相等关系列出方程，</text></g>
<g id="b7e1d"><text class="t" x="1175" y="2263.2">③解这个方程，</text></g>
<g id="b7e1e"><text class="t" x="1175" y="2290.3">④答(包括单位名称，检验)。</text></g>
<g id="b7f"><text class="t" x="1021.6" y="2589.4">(2)一些固定模型中的等量关系：</text></g>
<g id="b7f1"><text class="t" x="1123.8" y="2317">①数字问题：表示一个三位数，则有=100a+<tspan x="1123.8" dy="7.8">10b+c(数位上的数字×位数)</tspan></text></g>
<g id="b7f2"><text class="t" x="1123.8" y="2386.3">②行程问题：基本公式：路程=时间×速度</text></g>
<g id="b7f2a"><text class="t" x="1252.9" y="2351.7">甲乙同时相向行走相遇时：甲走的路程+乙走<tspan x="1252.9" dy="7.8">的路程=总路程</tspan></text></g>
<g id="b7f2b"><text class="t" x="1252.9" y="2386.3">甲走的时间=乙走的时间;</text></g>
<g id="b7f2c"><text class="t" x="1252.9" y="2413">甲乙同时同向行走追及时：甲走的路程-乙走<tspan x="1252.9" dy="7.8">的路程=甲乙之间距离</tspan></text></g>
<g id="b7f3"><text class="t" x="1123.8" y="2447.7">③工程问题(整体1)：基本公式：工作量=工作<tspan x="1123.8" dy="7.8">时间×工作效率</tspan></text></g>
<g id="b7f3a"><text class="t" x="1262.6" y="2451.7">各部分工作量之和=总工作量;</text></g>
<g id="b7f4"><text class="t" x="1123.8" y="2482.3">④储蓄问题：本息和=本金+利息;利息=本金<tspan x="1123.8" dy="7.8">×利率×时间</tspan></text></g>
<g id="b7f5"><text class="t" x="1123.8" y="2517">⑤商品销售问题：商品利润=售价-进价(成本<tspan x="1123.8" dy="7.8">价)</tspan></text></g>
<g id="b7f5a"><text class="t" x="1262.6" y="2520.9">商品利润率=(售价-进价)/进价</text></g>
<g id="b7f6"><text class="t" x="1123.8" y="2551.6">⑥等积变形问题：面积或体积不变</text></g>
<g id="b7f7"><text class="t" x="1123.8" y="2578.3">⑦和、差、倍、分问题：多、少、几倍、几分<tspan x="1123.8" dy="7.8">之几</tspan></text></g>
<g id="b7f8"><text class="t" x="1123.8" y="2613">⑧按比例分配问题：一般设每份为x如：2:3:4<tspan x="1123.8" dy="7.8">为2x、3x、4x</tspan></text></g>
<g id="b7f9"><text class="t" x="1123.8" y="2853.8">⑨资源调配问题：资源、人员的调配(有时要<tspan x="1123.8" dy="7.8">间接设未知数)</tspan></text></g>
<g id="b7f9a"><text class="t" x="1262.6" y="2853.8">(二)、思想方法(本单元常用到的数学思想方<tspan x="1262.6" dy="7.8">法小结)</tspan></text></g>
<g id="t1"><text class="t" x="1400.4" y="2647.6">(1)模型思想：通过对实际问题中的数量关系的<tspan x="1400.4" dy="7.8">分析，抽象成数学模型，建立一元一次方程的</tspan><tspan x="1400.4" dy="7.8">思想.</tspan></text></g>
<g id="t2"><text class="t" x="1400.4" y="2690.3">(2)方程思想：用方程解决实际问题的思想(如<tspan x="1400.4" dy="7.8">：按比例分配、线段的长、角的大小等)就是</tspan><tspan x="1400.4" dy="7.8">方程思想.</tspan></text></g>
<g id="t3"><text class="t" x="1400.4" y="2732.5">(3)转化(归纳)思想：解一元一次方程的过程，<tspan x="1400.4" dy="7.8">实质上就是利用去</tspan></text></g>
<g id="t4"><text class="t" x="1400.4" y="2767.6">分母、去括号、移项、合并同类项、未知数的<tspan x="1400.4" dy="7.8">系数化为1等各种同解变形，不断地用新的更</tspan><tspan x="1400.4" dy="7.8">简单的方程来代替原来的方程，最后逐步把方</tspan><tspan x="1400.4" dy="7.8">程转化为x=a的形式.体现了化"未知"为"已知"</tspan><tspan x="1400.4" dy="7.8">的化归思想.</tspan></text></g>
<g id="t5"><text class="t" x="1400.4" y="2825.4">(4)数形结合思想：如：数轴问题、在列方程解<tspan x="1400.4" dy="7.8">决行程问题时，借助</tspan></text></g>
<g id="t6"><text class="t" x="1400.4" y="2860">于线段示意图和图表等来分析数量关系，使问<tspan x="1400.4" dy="7.8">题中的数量关系很直</tspan></text></g>
<g id="t7"><text class="t" x="1400.4" y="2894.7">观地展示出来，体现了数形结合的优越性.</text></g>
<g id="t8"><text class="t" x="1400.4" y="2921.4">(5)分类(整体)思想：如：绝对值、偶次方、点<tspan x="1400.4" dy="7.8">在线段上(延长线</tspan></text></g>
<g id="t9"><text class="t" x="1400.4" y="2956.1">上、线段外)、角在角内(外)在解含字母系数<tspan x="1400.4" dy="7.8">的方程和含绝对值符</tspan></text></g>
<g id="t10"><text class="t" x="1400.4" y="2990.7">号的方程过程中往往需要分类讨论，在解有关<tspan x="1400.4" dy="7.8">方案设计的实际问题</tspan></text></g>
<g id="t11"><text class="t" x="1400.4" y="3025.4">的过程中往往也要注意分类思想在过程中的运<tspan x="1400.4" dy="7.8">用.</tspan></text></g>
<g id="t12"><text class="t" x="1400.4" y="3060">---------------3.3二元一次方程组及其解法</text></g>
<g id="b8"><text class="t" x="925.6" y="3086.7">①由两个一次方程组成的，并含有两个未知数<tspan x="925.6" dy="7.8">的方程组叫做二元一次方程组</tspan></text></g>
<g id="b9"><text class="t" x="925.6" y="3179.6">②消元法解方程组：</text></g>
<g id="b9a"><text class="t" x="992.3" y="3121.4">1、二元一次方程组的解：使二元一次方程组<tspan x="992.3" dy="7.8">中每个方程都成立的两个未知数的值，叫做二</tspan><tspan x="992.3" dy="7.8">元一次方程组的解(注意格式！)</tspan></text></g>
<g id="b9b"><text class="t" x="992.3" y="3163.6">2、代入消元法：从一个方程中求出某一个未<tspan x="992.3" dy="7.8">知数的表达式，再把它"代入"另一个方程，进</tspan><tspan x="992.3" dy="7.8">行求解，这种方法叫做代入消元法，简称代入</tspan><tspan x="992.3" dy="7.8">法。</tspan></text></g>
<g id="b9c"><text class="t" x="992.3" y="3217.8">3、加减消元法：把两个方程的两边分别相加<tspan x="992.3" dy="7.8">或相减(左边-左边=右边-右边)消去一个未知</tspan><tspan x="992.3" dy="7.8">数的方法，叫做加减消元法，简称加减法(一</tspan><tspan x="992.3" dy="7.8">定要使某个未知数的系数相等或相反)</tspan></text></g>
<g id="b9c1"><text class="t" x="1131.1" y="3214.3">-----------------3.4二元一次方程组的应用</text></g>
<g id="b9c2"><text class="t" x="1131.1" y="3240.9">两个未知数，两个相等关系(见一次方程的应<tspan x="1131.1" dy="7.8">用)</tspan></text></g>
<g id="c1"><text class="t" x="925.6" y="3275.6">---------------------5.1数据的收集</text></g>
<g id="c2"><text class="t" x="925.6" y="3302.3">1、全面调查(普查)：对全体对象进行的调查<tspan x="925.6" dy="7.8">叫做全面调查</tspan></text></g>
<g id="c3"><text class="t" x="925.6" y="3337.4">2、抽样调查：从被考察的全体对象中抽出一<tspan x="925.6" dy="7.8">部分对象进行考察的调查方式</tspan></text></g>
<g id="c4"><text class="t" x="925.6" y="3371.6">3、总体：所要考察对象的全体叫做总体</text></g>
<g id="c5"><text class="t" x="925.6" y="3398.8">4、个体：其中的每一个考察对象叫做个体</text></g>
<g id="c6"><text class="t" x="925.6" y="3425.6">5、样本：从总体中所抽取的一部分个体叫做<tspan x="925.6" dy="7.8">总体的一个样本</tspan></text></g>
<g id="c7"><text class="t" x="925.6" y="3460.2">6、样本容量：样本中个体的数目叫做样本容<tspan x="925.6" dy="7.8">量</tspan></text></g>
<g id="c7a"><text class="t" x="1064.4" y="3464.1">----------------5.2数据的整理</text></g>
<g id="c8"><text class="t" x="925.6" y="3494.7">1、常用的统计图：条形统计图、折线统计图<tspan x="925.6" dy="7.8">、扇形统计图</tspan></text></g>
<g id="c9"><text class="t" x="925.6" y="3546.8">2、扇形统计图：用圆和扇形来表示总体和部<tspan x="925.6" dy="7.8">分的比例关系，即用圆(36</tspan></text></g>
<g id="c9a"><text class="t" x="1064.4" y="3529.3">?)表示总体，用扇形表示构成总体的各个部分<tspan x="1064.4" dy="7.8">，通过扇形的大小来反</tspan></text></g>
<g id="c9b"><text class="t" x="1064.4" y="3564.3">映各个部分占总体的百分率大小，像这样的统<tspan x="1064.4" dy="7.8">计图叫做扇形统计图</tspan></text></g>
<g id="c10"><text class="t" x="925.6" y="3733.1">3、扇形的中心角计算公式：360°×该部分占<tspan x="925.6" dy="7.8">总体的百分率</tspan></text></g>
<g id="c10a"><text class="t" x="1064.4" y="3598.8">-----------------5.3用统计图描述数据</text></g>
<g id="c10b"><text class="t" x="1064.4" y="3625.6">(1)条形统计图能清楚表示出事物的绝对数量<tspan x="1064.4" dy="7.8">。</tspan></text></g>
<g id="c10c"><text class="t" x="1064.4" y="3660.1">(2)折线统计图能清楚地反映事物的变化趋势<tspan x="1064.4" dy="7.8">。</tspan></text></g>
<g id="c10d"><text class="t" x="1064.4" y="3871.8">(3)扇形统计图能清楚地表示各部分占总体的<tspan x="1064.4" dy="7.8">百分率。</tspan></text></g>
<g id="d1"><text class="t" x="1202.7" y="3695.2">-------------------5.4从图表中的数据获取信息</text></g>
<g id="d2"><text class="t" x="1202.7" y="3721.9">图表带来有利于决策的各种信息的同时，使用<tspan x="1202.7" dy="7.8">不当的图表来表达数据，</tspan></text></g>
<g id="d3"><text class="t" x="1202.7" y="3756.5">会给人以误导。在从图表中获取信息时，要关<tspan x="1202.7" dy="7.8">注数据的来源、收集的</tspan></text></g>
<g id="d4"><text class="t" x="1202.7" y="3791.1">方法和描述的形式，以便获取更多合理的信息<tspan x="1202.7" dy="7.8">。</tspan></text></g>
<g id="d5"><text class="t" x="1202.7" y="3825.6">备注：①1+2+3+4+------+n=n×(n+1)/2②<tspan x="1202.7" dy="7.8">1+3+5+7+----+(2n-1)=n?</tspan></text></g>
<g id="d6"><text class="t" x="1202.7" y="3860.1">③2+4+6+8+------+2n=n×(n+1)④1/2×3=<tspan x="1202.7" dy="7.8">1/2-1/3(1/3×4=1/3-1/4)</tspan></text></g>
<g id="d7"><text class="t" x="1202.7" y="3894.7">⑤2????-2????=2????×(2-1)⑥98/99=1-1/9<tspan x="1202.7" dy="7.8">9</tspan></text></g>
<g id="d8"><text class="t" x="1202.7" y="3929.7">⑦如果在直线a上有n个点(线段AB上有n个点<tspan x="1202.7" dy="7.8">可以构成(n+1)×(n+2)/2条线段)，则共有2n</tspan><tspan x="1202.7" dy="7.8">条射线。n×(n-1)/2条线段;</tspan></text></g>
<g id="d9"><text class="t" x="1202.7" y="3972.1">⑧同一平面内有n条两两相交的直线，最少有<tspan x="1202.7" dy="7.8">一个交点，最多有n×(n-1)/2个交点;</tspan></text></g>
<g id="d10"><text class="t" x="1202.7" y="4006.6">⑨同一平面上共有n个点(n≥3),其中任意三个<tspan x="1202.7" dy="7.8">点都不在同一条直线上，那么连接任意两点，</tspan><tspan x="1202.7" dy="7.8">可画n×(n-1)/2条直线;</tspan></text></g>
<g id="d11"><text class="t" x="1202.7" y="4048.9">⑩平面上从点A发出n条射线，可以组成n×(n<tspan x="1202.7" dy="7.8">-1)/2个角;(角内发出n条射线，，可以组成(n</tspan><tspan x="1202.7" dy="7.8">+1)×(n+2)/2个角</tspan></text></g>
<g id="e0"><text class="t e" x="530.8" y="1167.3">-------------2.1用字母表示数</text></g>
<g id="e1"><text class="t" x="409.5" y="1193.5">1、偶数：能被2整除的整数叫偶数(如：-4、-<tspan x="409.5" dy="7.8">2、0、2、4、)三个</tspan></text></g>
<g id="e1a"><text class="t e" x="389.4" y="1197.3">连续偶数：2n-2，2n，2n+2(相差2)。</text></g>
<g id="e2"><text class="t" x="409.5" y="1243.7">2、奇数：不能被2整除的整数叫做奇数(如：-<tspan x="409.5" dy="7.8">5、-3、-1、1、3、5)</tspan></text></g>
<g id="e2a"><text class="t" x="270.3" y="1228.2">三个连续奇数：2n-1，2n+1，2n+3(相差2)<tspan x="270.3" dy="7.8">。</tspan></text></g>
<g id="e2b"><text class="t e" x="392.4" y="1263">-------------2.2代数式</text></g>
<g id="e3"><text class="t" x="409.5" y="1290.1">1、用加、减、乘(乘方)、除等运算符号把数<tspan x="409.5" dy="7.8">或表示数的字母连接而</tspan></text></g>
<g id="e3a"><text class="t" x="270.3" y="1290.1">成的式子，叫做代数式。(注：单独一个数字<tspan x="270.3" dy="7.8">或字母也是代数式)</tspan></text></g>
<g id="e4"><text class="t" x="409.5" y="1357.7">2、代数式的写法：数学与字母相乘时，"×"<tspan x="409.5" dy="7.8">号省略，数字写在字母</tspan></text></g>
<g id="e4a"><text class="t" x="270.3" y="1324.9">前;字母与字母相乘时，相同字母写成幂的形<tspan x="270.3" dy="7.8">式;数字与数字相乘时，</tspan></text></g>
<g id="e4b"><text class="t" x="270.3" y="1358.9">"×"号不能省略;式中出现除法时，一般写成分<tspan x="270.3" dy="7.8">数形式。式中出现</tspan></text></g>
<g id="e4c"><text class="t e" x="388.4" y="1393.7">带分数时，一般写成假分数形式。</text></g>
<g id="e5"><text class="t" x="409.5" y="1420.7">3、分段问题书写代数式时要分段考虑，有单<tspan x="409.5" dy="7.8">位时要考虑是否要();</tspan></text></g>
<g id="e5a"><text class="t" x="270.3" y="1420.7">如：电费、水费、出租车、商店优惠-------<tspan x="270.3" dy="7.8">。</tspan></text></g>
<g id="e6"><text class="t" x="409.5" y="1511.1">4、单项式：由数字和字母乘积组成的式子。<tspan x="409.5" dy="7.8">单独一个数或一个字母也</tspan></text></g>
<g id="e6a"><text class="t" x="270.3" y="1455.5">是单项式.因此，判断代数式是否是单项式，<tspan x="270.3" dy="7.8">关键要看代数式中数与</tspan></text></g>
<g id="e6b"><text class="t" x="270.3" y="1489.9">字母是否是乘积关系，若①分母中不含有字母<tspan x="270.3" dy="7.8">，②式子中含有加、减运算关系，也不是单项</tspan><tspan x="270.3" dy="7.8">式.</tspan></text></g>
<g id="e6c"><text class="t" x="270.3" y="1532.4">单项式的系数：是指单项式中的数字因数(不<tspan x="270.3" dy="7.8">要漏负号和分母)</tspan></text></g>
<g id="e6d"><text class="t" x="270.3" y="1567.2">单项数的次数：是指单项式中所有字母的指数<tspan x="270.3" dy="7.8">的和.(注意指数1)</tspan></text></g>
<g id="e7"><text class="t" x="409.5" y="1669.2">5、多项式：几个单项式的和。判断代数式是<tspan x="409.5" dy="7.8">否是多项式，关键要看代</tspan></text></g>
<g id="e7a"><text class="t" x="270.3" y="1601.6">数式中的每一项是否是单项式.每个单项式称<tspan x="270.3" dy="7.8">项，(其中不含字母的</tspan></text></g>
<g id="e7b"><text class="t" x="270.3" y="1636.4">项叫常数项)多项式的次数是指多项式里次数<tspan x="270.3" dy="7.8">项的次数(选代表);</tspan></text></g>
<g id="e7c"><text class="t" x="270.3" y="1671.1">多项式的项是指在多项式中每一个单项式.特<tspan x="270.3" dy="7.8">别注意多项式的项包括</tspan></text></g>
<g id="e7d"><text class="t e" x="391.9" y="1705.5">它前面的性质符号.</text></g>
<g id="e7e"><text class="t" x="270.3" y="1732.6">它们都是用字母表示数或列式表示数量关系。<tspan x="270.3" dy="7.8">注意单项式和多项式的每一项都包括它前面的</tspan><tspan x="270.3" dy="7.8">符号。</tspan></text></g>
<g id="e8"><text class="t" x="409.5" y="1880.6">6、代数式分为整式和分式(分母里含有字母);<tspan x="409.5" dy="7.8">整式分为单项式和多项式。</tspan></text></g>
<g id="e8a"><text class="t e" x="392.4" y="1775.1">-------------2.3整式的加减</text></g>
<g id="e8b"><text class="t" x="270.3" y="1801.4">①同类项：所含字母相同，并且相同字母的指<tspan x="270.3" dy="7.8">数也相同的项。(简称"二个相同，二个无关")</tspan></text></g>
<g id="e8c"><text class="t" x="270.3" y="1836.2">②合并同类项：把多项式中的同类项合并成一<tspan x="270.3" dy="7.8">项。可以运用交换律，结合律和分配律。(同</tspan><tspan x="270.3" dy="7.8">类项用括号括起来，中间用+连接)</tspan></text></g>
<g id="e8d"><text class="t" x="270.3" y="1878.7">③合并同类项法则：合并同类项后，所得项的<tspan x="270.3" dy="7.8">系数是合并前各同类项的系数的和，所含字母</tspan><tspan x="270.3" dy="7.8">部分不变，相同字母的指数不变("两不变")</tspan></text></g>
<g id="e8e"><text class="t e" x="391.9" y="1921.2">④不含某字母项时，就是某字母项的系数为0</text></g>
<g id="e8f"><text class="t" x="270.3" y="1948.3">⑤字母的升降幂排列：按某个字母的指数从小<tspan x="270.3" dy="7.8">(大)到大(小)的顺</tspan></text></g>
<g id="e8f1"><text class="t e" x="251.2" y="1952.1">序排列。</text></g>
<g id="e8g"><text class="t" x="270.3" y="1982.3">⑥如果括号外的符号是+号，去括号和符号后<tspan x="270.3" dy="7.8">原括号内各项的符号不变;如果括号外的符号</tspan><tspan x="270.3" dy="7.8">是-号，去括号和符号后原括号内各项的符号</tspan><tspan x="270.3" dy="7.8">改变;括号前有数字时，要连着符号相乘。</tspan></text></g>
<g id="f1"><text class="t e" x="538.6" y="2032.9">----------------4.1几何图形</text></g>
<g id="f2"><text class="t e" x="538.6" y="2059.6">形状：方的、圆的等</text></g>
<g id="f3"><text class="t e" x="538.6" y="2144.6">(1)①几何图形大小：长度、面积、体积等</text></g>
<g id="f3a"><text class="t e" x="411" y="2086.6">位置：相交、垂直、平行等</text></g>
<g id="f3b"><text class="t e" x="405.9" y="2113.7">②几何体也简称体。包围着体的是面。</text></g>
<g id="f3c"><text class="t" x="288.9" y="2140.3">③常见的立体图形：圆柱(一曲面二平面)、圆<tspan x="288.9" dy="7.8">椎(一曲面一平面)、圆台、球(一曲面)、长方</tspan><tspan x="288.9" dy="7.8">体(六面八点十二棱)、四面体(三棱锥)、三棱</tspan><tspan x="288.9" dy="7.8">柱(各部分不都在一个平面内，在一个平面内</tspan><tspan x="288.9" dy="7.8">就是平面图形。)新课标第一网</tspan></text></g>
<g id="f3d"><text class="t" x="288.9" y="2198.3">④点线面体：是组成几何图形的基本元素(是<tspan x="288.9" dy="7.8">几何图形);点动成线，线动成面，面动成体。</tspan></text></g>
<g id="f4"><text class="t" x="417" y="2233.1">(2)展开与折叠：圆柱的侧面展开图是矩形;圆<tspan x="417" dy="7.8">锥的侧面展开图是扇形;正方体展开六个面可</tspan><tspan x="417" dy="7.8">用"1字型"、"Z字型"模型认识。</tspan></text></g>
<g id="f5"><text class="t" x="417" y="2717.7">(3)三视图：主视图(从正面看)、左视图(从左<tspan x="417" dy="7.8">面看)、俯视图</tspan></text></g>
<g id="f5a"><text class="t e" x="396.9" y="2275.6">(从上面看)。</text></g>
<g id="f5b"><text class="t e" x="400.4" y="2302.7">-------------4.2直线、射线、线段</text></g>
<g id="f5c"><text class="t e" x="396.9" y="2367.6">1.特点与表示方法：</text></g>
<g id="f5c1"><text class="t" x="207.5" y="2329.3">①直线没有端点，向两方无限延伸(不能用延<tspan x="207.5" dy="7.8">长描述)，可用两个大</tspan></text></g>
<g id="f5c1a"><text class="t e" x="189.9" y="2333.2">写字母或小字字母表示;</text></g>
<g id="f5c2"><text class="t" x="207.5" y="2363.7">②射线只有一个端点，向一方无限延伸，用端<tspan x="207.5" dy="7.8">点和延伸方向中的任意</tspan></text></g>
<g id="f5c2a"><text class="t" x="69.3" y="2363.7">一点表示;端点相同，延伸方向相同的两条射<tspan x="69.3" dy="7.8">线是同一条射线(两个相同)。</tspan></text></g>
<g id="f5c3"><text class="t" x="207.5" y="2398.5">③线段有两个端点，可用两个大写字母或小字<tspan x="207.5" dy="7.8">字母表示(不能延长)。</tspan></text></g>
<g id="f5d"><text class="t" x="278.8" y="2432.9">2.连接两点间的线段的长度，叫做这两点之间<tspan x="278.8" dy="7.8">的距离。线段是图形，距离有大小。</tspan></text></g>
<g id="f5e"><text class="t" x="278.8" y="2467.7">3.经过两点有一条直线，并且只有一条直线。<tspan x="278.8" dy="7.8">(两点确定一条直线)。</tspan></text></g>
<g id="f5f"><text class="t" x="278.8" y="2565.8">4.经过两点的所有连线中------------线段最短(<tspan x="278.8" dy="7.8">两点之间，线段最短)</tspan></text></g>
<g id="f5f1"><text class="t e" x="261.8" y="2502.5">---------------4.3线段的长短比较</text></g>
<g id="f5f2"><text class="t" x="140.2" y="2529.1">①线段的比较：叠合法(线段上、线段的延长<tspan x="140.2" dy="7.8">线上)或度量法。</tspan></text></g>
<g id="f5f3"><text class="t" x="140.2" y="2563.9">②中点：将一条线段分成两条相等的线段的点<tspan x="140.2" dy="7.8">称这条线段的中点。</tspan></text></g>
<g id="f5f4"><text class="t" x="140.2" y="2598.3">③线段的和、差、倍、分(整体求部分，部分<tspan x="140.2" dy="7.8">求整体)可以设未知数</tspan></text></g>
<g id="f5f5"><text class="t" x="140.2" y="2633.1">④点在线段上、点在线段的延长线上，甚至在<tspan x="140.2" dy="7.8">线段外。</tspan></text></g>
<g id="f5f5a"><text class="t e" x="123.1" y="2637">--------------4.4角</text></g>
<g id="f5g"><text class="t" x="278.8" y="2667.9">1、定义：有公共端点的两条射线组成的图形<tspan x="278.8" dy="7.8">叫角。角的端点为顶点，两条射线为角的两边</tspan><tspan x="278.8" dy="7.8">(一条射线绕端点旋转后形成的图形)。</tspan></text></g>
<g id="f5h"><text class="t" x="278.8" y="2710">2、1°=60'1'=60"1周角=360度1平角=180<tspan x="278.8" dy="7.8">度;</tspan></text></g>
<g id="f5h1"><text class="t" x="140.2" y="2710">直角=90度;钟表上分针每分钟走6°，时针每<tspan x="140.2" dy="7.8">分钟走0.5°.</tspan></text></g>
<g id="f5i"><text class="t" x="278.8" y="2744.4">3、度化为度、分、秒(整数不动，小数下放);<tspan x="278.8" dy="7.8">度、分、秒化为度(逐级上调)。</tspan></text></g>
<g id="f5j"><text class="t" x="278.8" y="2899">4、度、分、秒的加、减、乘、除(余数下放)<tspan x="278.8" dy="7.8">运算：对口(秒与秒、分与分、度与度)运算，</tspan><tspan x="278.8" dy="7.8">满60进1，借1算60</tspan></text></g>
<g id="f5j1"><text class="t e" x="261.8" y="2779.6">--------------4.5角的比较与补(余)角</text></g>
<g id="f5j2"><text class="t" x="140.2" y="2806.2">①角的比较：叠合法(在角的内部、在角的外<tspan x="140.2" dy="7.8">部)或度量法。</tspan></text></g>
<g id="f5j3"><text class="t" x="140.2" y="2841">②角的平分线：角平分线把一个角分成两个相<tspan x="140.2" dy="7.8">等的角，角平分线是一条射线。</tspan></text></g>
<g id="f5j4"><text class="t" x="140.2" y="2875.4">③如果两个角的和等于90度(直角)，(∠1+∠<tspan x="140.2" dy="7.8">2=90°)就说这两个叫互为余角，即其中每一</tspan><tspan x="140.2" dy="7.8">个角是另一个角的余角。(不要遗漏)。</tspan></text></g>
<g id="f5j5"><text class="t" x="140.2" y="2917.9">④如果两个角的和等于180度(平角)，(∠1+∠<tspan x="140.2" dy="7.8">2=180°)就说这两个叫互为补角，即其中每</tspan><tspan x="140.2" dy="7.8">一个角是另一个角的补角(不要遗漏)。</tspan></text></g>
<g id="f5j6"><text class="t" x="140.2" y="2960.5">⑤等角(同角)的补角相等。等角(同角)的余角<tspan x="140.2" dy="7.8">相等。</tspan></text></g>
<g id="f5j7"><text class="t" x="140.2" y="2995.6">⑥角的和、差、倍、分(角在角的内部、在角<tspan x="140.2" dy="7.8">的外部)可以设未知数</tspan></text></g>
<g id="f5j8"><text class="t" x="140.2" y="3029.6">⑦方位角：北偏东30?(就是从北望东旋转30?)<tspan x="140.2" dy="7.8">，西南方向：就是南偏西45?</tspan></text></g>
<g id="f5j8a"><text class="t e" x="123.1" y="3033.5">------------------4.6用尺规作线段与角</text></g>
<g id="f5k"><text class="t" x="278.8" y="3064">1、尺规作图：几何中，通常用没有刻度的直<tspan x="278.8" dy="7.8">尺和圆规来画图，这种画</tspan></text></g>
<g id="f5k1"><text class="t e" x="261.8" y="3067.9">图的方法叫做尺规作图</text></g>
<g id="f5l"><text class="t" x="278.8" y="3114.7">2、作一条线段等于已知线段：(1)作一条射线<tspan x="278.8" dy="7.8">AM(2)在射线AM</tspan></text></g>
<g id="f5l1"><text class="t" x="140.2" y="3099.2">上，以点A为圆心，以线段a的长度为半径画<tspan x="140.2" dy="7.8">弧，交射线AM于点B则</tspan></text></g>
<g id="f5l2"><text class="t e" x="261.8" y="3134">线段AB为所求作的线段</text></g>
<g id="f5m"><text class="t" x="278.8" y="3160.3">3、作一个角等于已知角：(1)在∠AOB上以O<tspan x="278.8" dy="7.8">为圆心，任意长为半径画弧，分别交OA、OB</tspan><tspan x="278.8" dy="7.8">于点P、Q</tspan></text></g>
<g id="f6"><text class="t" x="417" y="3202.8">(2)作射线EG，并以点E为圆心，OP长为半径<tspan x="417" dy="7.8">画弧交EG于点D;</tspan></text></g>
<g id="f7"><text class="t" x="417" y="3237.6">(3)以点D为圆心，PQ长为半径画弧交第(2)步<tspan x="417" dy="7.8">中所画弧于点F;</tspan></text></g>
<g id="f8"><text class="t e" x="538.6" y="3272.3">(4)作射线EF，∠DEF即为所求作的角</text></g>
<g id="watermarks">
<use href="#wm" transform="translate(392 311) rotate(-30)"/>
<use href="#wm" transform="translate(1165.5 311) rotate(-30)"/>
<use href="#wm" transform="translate(392 917) rotate(-30)"/>
<use href="#wm" transform="translate(1165.5 917) rotate(-30)"/>
<use href="#wm" transform="translate(392 1523) rotate(-30)"/>
<use href="#wm" transform="translate(1165.5 1523) rotate(-30)"/>
<use href="#wm" transform="translate(392 2129) rotate(-30)"/>
<use href="#wm" transform="translate(1165.5 2129) rotate(-30)"/>
<use href="#wm" transform="translate(392 2735) rotate(-30)"/>
<use href="#wm" transform="translate(1165.5 2735) rotate(-30)"/>
<use href="#wm" transform="translate(392 3341) rotate(-30)"/>
<use href="#wm" transform="translate(1165.5 3341) rotate(-30)"/>
<use href="#wm" transform="translate(392 3947) rotate(-30)"/>
<use href="#wm" transform="translate(1165.5 3947) rotate(-30)"/>
</g>
</svg>
